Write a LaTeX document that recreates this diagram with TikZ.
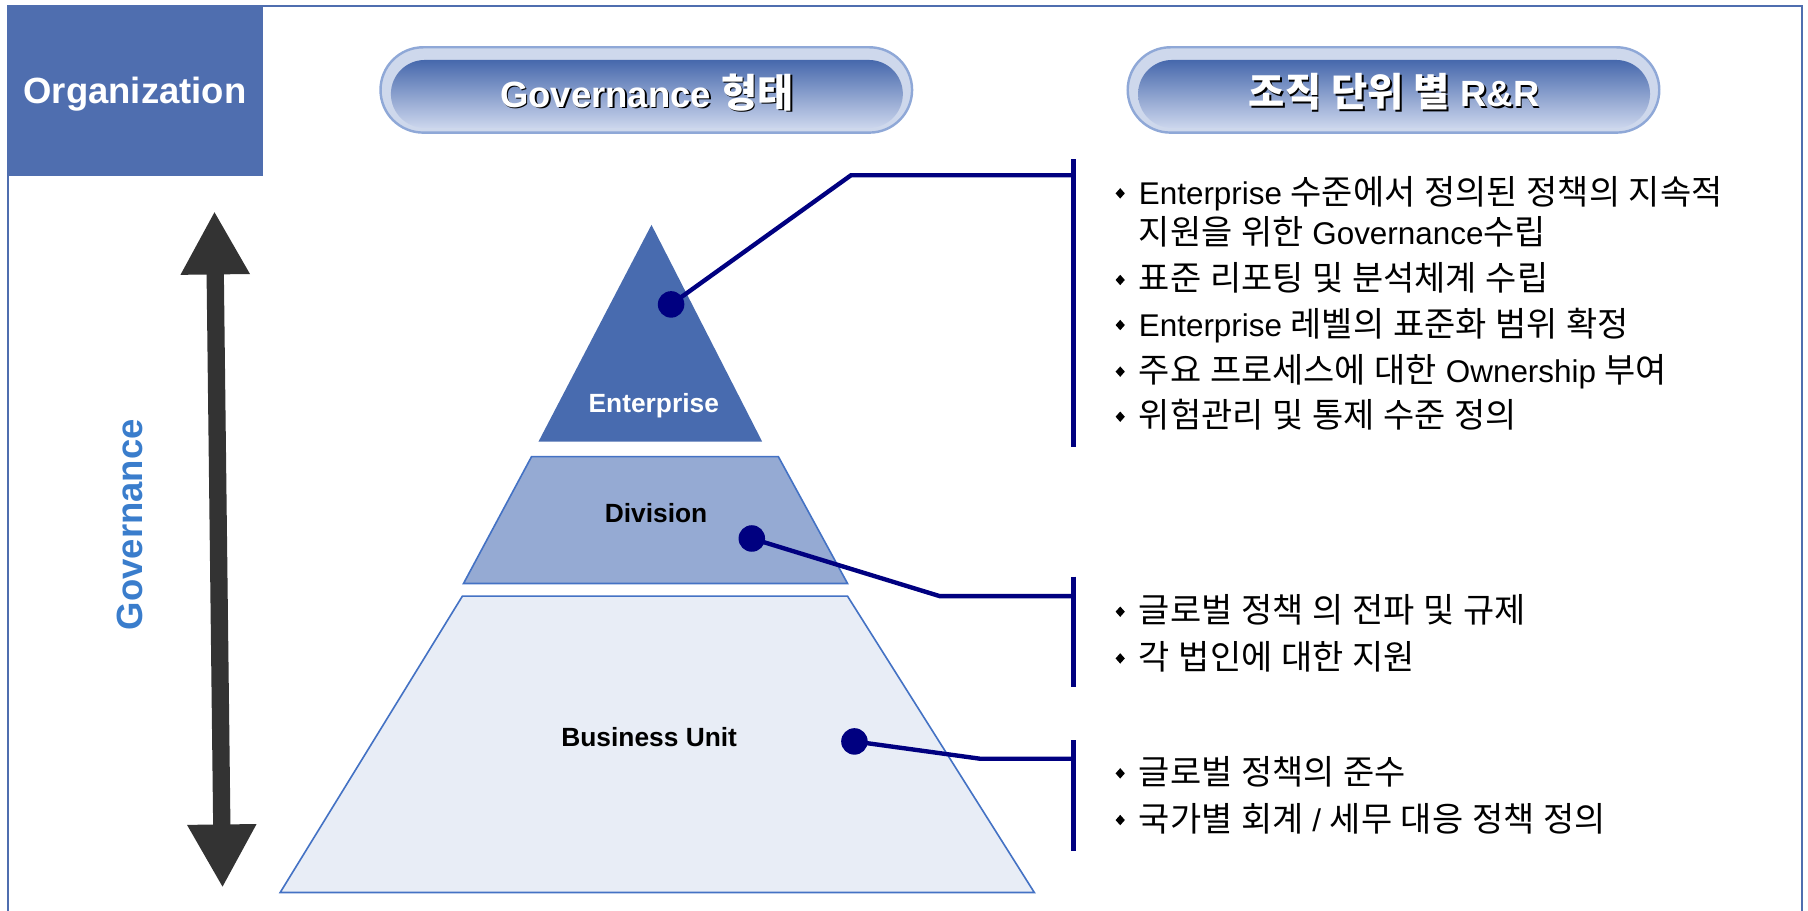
\documentclass[tikz,border=0pt]{standalone}
\usepackage{fontspec}
\setmainfont{Liberation Sans}
\newfontfamily\krfont{Noto Sans CJK KR}[Scale=1.08]
\newcommand\latinfont{\fontfamily{\rmdefault}\selectfont}
\usetikzlibrary{%
  arrows.meta,%
  calc%
}
% hangul goes to the CJK font, the rest stays in Liberation Sans
\XeTeXinterchartokenstate=1
\newXeTeXintercharclass\hangulclass
\count255="AC00
\loop\ifnum\count255<"D7A4
  \XeTeXcharclass\count255=\hangulclass
  \advance\count255 by 1
\repeat
\XeTeXinterchartoks 0 \hangulclass = {\krfont}
\XeTeXinterchartoks 4095 \hangulclass = {\krfont}
\XeTeXinterchartoks \hangulclass 0 = {\latinfont}
\XeTeXinterchartoks \hangulclass 4095 = {\latinfont}

\definecolor{orgblue}{RGB}{79,110,175}
\definecolor{entblue}{RGB}{72,107,175}
\definecolor{divblue}{RGB}{149,170,211}
\definecolor{bublue}{RGB}{232,237,246}
\definecolor{edgeblue}{RGB}{68,114,196}
\definecolor{navy}{RGB}{0,0,128}
\definecolor{arrowgray}{RGB}{51,51,51}
\definecolor{govblue}{RGB}{58,125,204}
\definecolor{pillfill}{RGB}{206,216,236}
\definecolor{pillline}{RGB}{143,168,215}
\definecolor{pilltop}{RGB}{70,104,172}
\definecolor{pillbottom}{RGB}{204,214,237}

\tikzset{>=latex,%
  link/.style={draw=navy,line width=0.38mm},%
  dot/.style={circle,fill=navy,inner sep=0pt,minimum size=2.3mm},%
  lvl/.style={font=\fontsize{6.5}{8}\selectfont\bfseries},%
  hdr/.style={font=\fontsize{9}{11}\selectfont\bfseries},%
  rrtext/.style={anchor=base west,inner sep=0pt,font=\fontsize{7.75}{9}\selectfont},%
  pillouter/.style={fill=pillfill,draw=pillline,line width=0.6pt,rounded corners=3.7mm},%
  pillinner/.style={top color=pilltop,bottom color=pillbottom,rounded corners=2.95mm},%
  govarrow/.style={draw=arrowgray,line width=1.5mm,%
    {Triangle[length=5.5mm,width=5.6mm]}-{Triangle[length=5.5mm,width=5.6mm]}}}

\begin{document}
\begin{tikzpicture}
    \useasboundingbox (0,0) rectangle (15.68,7.90);
    % frame and title block
    \draw[orgblue,line width=0.5pt] (0.07,0) -- (0.07,7.85) -- (15.63,7.85) -- (15.63,0);
    \fill[orgblue] (0.07,6.37) rectangle (2.28,7.85);
    \node[hdr,white] (org) at (1.17,7.08) {Organization};
    % header pills
    \draw[pillouter] (3.30,6.75) rectangle (7.91,7.49);
    \shade[pillinner] (3.39,6.79) rectangle (7.83,7.38);
    \node[hdr,black] (govshadow) at (5.625,7.085) {Governance 형태};
    \node[hdr,white] (govhead) at (5.61,7.10) {Governance 형태};
    \draw[pillouter] (9.78,6.75) rectangle (14.39,7.49);
    \shade[pillinner] (9.87,6.79) rectangle (14.31,7.38);
    \node[hdr,black] (rrshadow) at (12.105,7.085) {조직 단위 별 R\&R};
    \node[hdr,white] (rrhead) at (12.09,7.10) {조직 단위 별 R\&R};
    % governance axis
    \coordinate (gtop) at (1.86,6.07);
    \coordinate (gbot) at (1.93,0.20);
    \draw[govarrow] (gtop) -- (gbot);
    \node[hdr,text=govblue,rotate=90] (govlbl) at (1.13,3.35) {Governance};
    % pyramid
    \fill[entblue] (5.65,5.95) -- (6.61,4.07) -- (4.67,4.07) -- cycle;
    \draw[fill=divblue,draw=edgeblue,line width=0.4pt] (4.61,3.94) -- (6.75,3.94)
      -- (7.35,2.84) -- (4.02,2.84) -- cycle;
    \draw[fill=bublue,draw=edgeblue,line width=0.4pt] (4.01,2.73) -- (7.35,2.73)
      -- (8.97,0.16) -- (2.43,0.16) -- cycle;
    \node[lvl,white] (ent) at (5.67,4.38) {Enterprise};
    \node[lvl] (div) at (5.69,3.45) {Division};
    \node[lvl] (bu) at (5.63,1.51) {Business Unit};
    % call-outs
    \node[dot] (entdot) at (5.82,5.26) {};
    \node[dot] (divdot) at (6.52,3.23) {};
    \node[dot] (budot) at (7.41,1.47) {};
    \coordinate (entbend) at (7.38,6.38);
    \coordinate (entjoin) at (9.31,6.38);
    \coordinate (divbend) at (8.15,2.73);
    \coordinate (divjoin) at (9.31,2.73);
    \coordinate (bubend) at (8.50,1.32);
    \coordinate (bujoin) at (9.31,1.32);
    \draw[link] (entdot.center) -- (entbend) -- (entjoin);
    \draw[link] (divdot.center) -- (divbend) -- (divjoin);
    \draw[link] (budot.center) -- (bubend) -- (bujoin);
    \draw[link] (9.31,6.52) -- (9.31,4.02);
    \draw[link] (9.31,2.90) -- (9.31,1.94);
    \draw[link] (9.31,1.48) -- (9.31,0.52);
    % R&R lists
    \foreach \y/\t [count=\i] in {6.128/{Enterprise 수준에서 정의된 정책의 지속적},
        5.377/{표준 리포팅 및 분석체계 수립},
        4.986/{Enterprise 레벨의 표준화 범위 확정},
        4.582/{주요 프로세스에 대한 Ownership 부여},
        4.191/{위험관리 및 통제 수준 정의},
        2.500/{글로벌 정책 의 전파 및 규제},
        2.095/{각 법인에 대한 지원},
        1.098/{글로벌 정책의 준수},
        0.693/{국가별 회계 / 세무 대응 정책 정의}} {
      \node[rrtext] (rr\i) at (9.87,\y) {\t};
      \fill (9.675,\y+0.095) -- (9.715,\y+0.14) -- (9.755,\y+0.095)
        -- (9.715,\y+0.05) -- cycle;
    }
    \node[rrtext] (rrmore) at (9.87,5.781) {지원을 위한 Governance수립};
\end{tikzpicture}
\end{document}
